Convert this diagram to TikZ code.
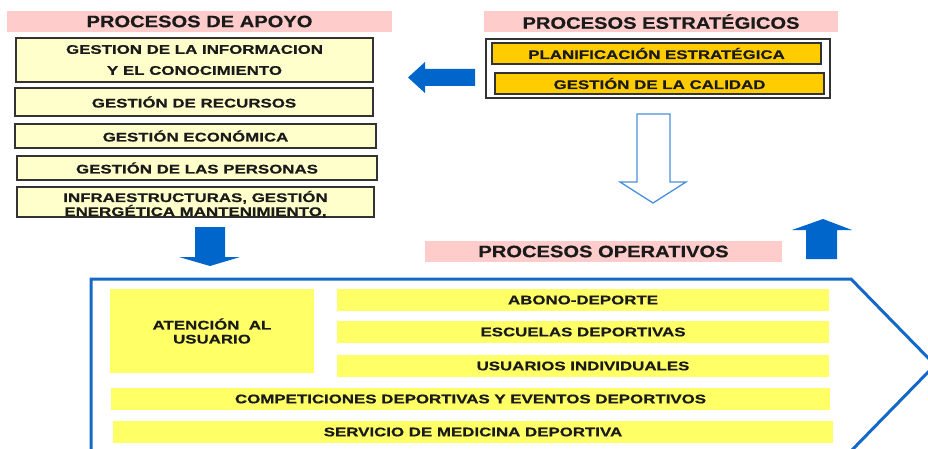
\documentclass[tikz,border=0pt]{standalone}
\usepackage{fontspec}
\setmainfont{Liberation Sans}
\newfontfamily\titlefont{Liberation Sans}[FakeStretch=1.22, BoldFeatures={FakeBold=0.5}]
\newfontfamily\boxfont{Liberation Sans}[FakeStretch=1.35, BoldFeatures={FakeBold=0.6}]
\definecolor{rosa}{RGB}{255,204,204}
\definecolor{crema}{RGB}{255,255,204}
\definecolor{oro}{RGB}{255,204,0}
\definecolor{amarillo}{RGB}{255,255,102}
\definecolor{azul}{RGB}{0,102,204}
\definecolor{azulclaro}{RGB}{74,144,217}
\definecolor{azullinea}{RGB}{20,104,200}
\definecolor{tinta}{RGB}{26,26,26}

\begin{document}
\begin{tikzpicture}[x=1pt, y=1pt,
    titulo/.style={fill=rosa, text=tinta, inner sep=0pt,
        font=\titlefont\bfseries\fontsize{16.5}{18}\selectfont},
    apoyo/.style={fill=crema, draw=black!80, line width=1.5pt, text=tinta,
        align=center, inner sep=0pt,
        font=\boxfont\bfseries\fontsize{12.5}{14}\selectfont},
    estrat/.style={apoyo, fill=oro},
    operat/.style={fill=amarillo, text=tinta, align=center, inner sep=0pt,
        font=\boxfont\bfseries\fontsize{12.5}{14}\selectfont}]

    \useasboundingbox (0,0) rectangle (928,448);

    % Procesos de apoyo
    \node[titulo, minimum width=385pt, minimum height=21pt] (tapoyo) at (199.5,426.5) {PROCESOS DE APOYO};
    \node[apoyo, minimum width=357pt, minimum height=44pt,
        font=\boxfont\bfseries\fontsize{12.5}{21}\selectfont] (info) at (194.5,388)
        {GESTION DE LA INFORMACION\\ Y EL CONOCIMIENTO};
    \node[apoyo, minimum width=358pt, minimum height=28pt] (recursos) at (194,346) {GESTIÓN DE RECURSOS};
    \node[apoyo, minimum width=361pt, minimum height=24pt] (economica) at (195.5,312) {GESTIÓN ECONÓMICA};
    \node[apoyo, minimum width=360pt, minimum height=24pt] (personas) at (197,280) {GESTIÓN DE LAS PERSONAS};
    \node[apoyo, minimum width=357pt, minimum height=30pt, text height=28pt, text depth=0pt,
        font=\boxfont\bfseries\fontsize{12.5}{13}\selectfont] (infra) at (195.5,246)
        {INFRAESTRUCTURAS, GESTIÓN\\ ENERGÉTICA MANTENIMIENTO,};

    % Procesos estratégicos
    \node[titulo, minimum width=354pt, minimum height=21pt] (testrat) at (661,426.5) {PROCESOS ESTRATÉGICOS};
    \node[draw=black!80, line width=1.5pt, fill=white, minimum width=344pt, minimum height=59pt] (marco) at (658,379.5) {};
    \node[estrat, minimum width=329pt, minimum height=21pt] (planif) at (656.5,394.5) {PLANIFICACIÓN ESTRATÉGICA};
    \node[estrat, minimum width=329pt, minimum height=21pt] (calidad) at (659.5,364.5) {GESTIÓN DE LA CALIDAD};

    % Flechas
    \fill[azul] (475,379) -- (425,379) -- (425,386) -- (408,370.5) -- (425,355) -- (425,362) -- (475,362) -- cycle;
    \draw[azulclaro, line width=1.3pt, fill=white] (637,334) -- (670,334) -- (670,266) -- (686,266)
        -- (653,245) -- (620,266) -- (637,266) -- cycle;
    \fill[azul] (806,189) -- (837,189) -- (837,218) -- (852,218) -- (823,229) -- (792,218) -- (806,218) -- cycle;
    \fill[azul] (195,221) -- (225,221) -- (225,191) -- (240,191) -- (210,182) -- (179,191) -- (195,191) -- cycle;

    % Procesos operativos
    \node[titulo, minimum width=357pt, minimum height=21pt] (toper) at (603.5,196.5) {PROCESOS OPERATIVOS};
    \begin{scope}
        \clip (0,0) rectangle (928,448);
        \draw[azullinea, line width=3pt] (91,-10) -- (91,169) -- (851,169) -- (935,83) -- (851,-3);
    \end{scope}

    \node[operat, minimum width=204pt, minimum height=84pt] (atencion) at (212,117) {ATENCIÓN\ \ AL\\ USUARIO};
    \node[operat, minimum width=492pt, minimum height=22pt] (abono) at (583,148) {ABONO-DEPORTE};
    \node[operat, minimum width=492pt, minimum height=22pt] (escuelas) at (583,116) {ESCUELAS DEPORTIVAS};
    \node[operat, minimum width=492pt, minimum height=22pt] (usuarios) at (583,82) {USUARIOS INDIVIDUALES};
    \node[operat, minimum width=719pt, minimum height=22pt] (competiciones) at (470.5,49)
        {COMPETICIONES DEPORTIVAS Y EVENTOS DEPORTIVOS};
    \node[operat, minimum width=720pt, minimum height=22pt] (servicio) at (473,16) {SERVICIO DE MEDICINA DEPORTIVA};

\end{tikzpicture}
\end{document}
